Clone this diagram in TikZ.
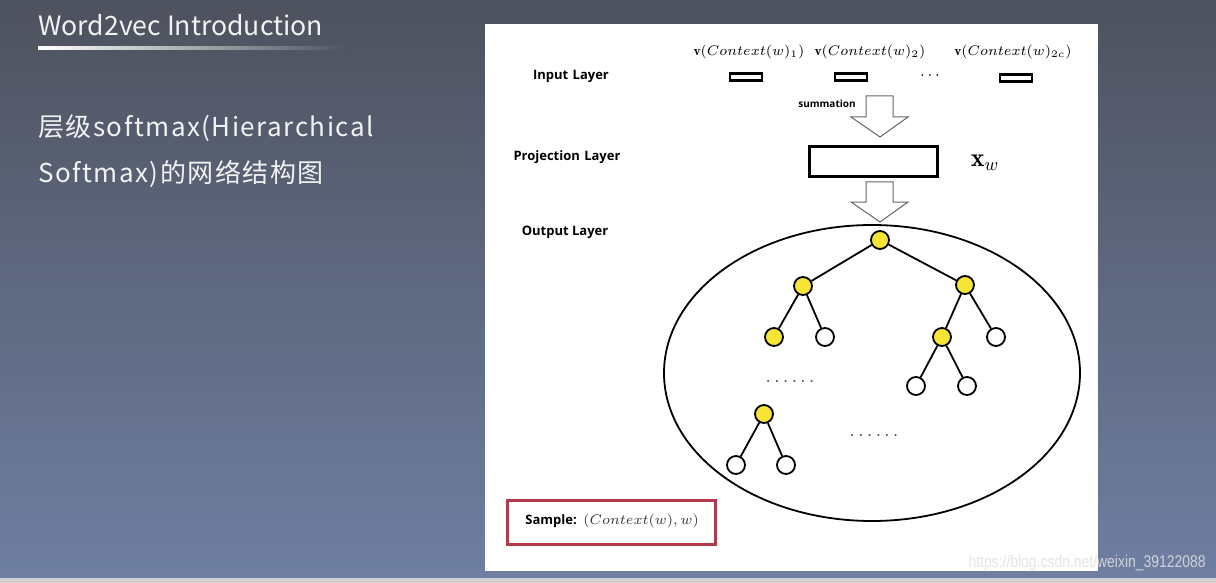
\documentclass[tikz,border=0pt]{standalone}
\usepackage{fontspec}
\newfontfamily\cjk{Noto Sans CJK SC}
\newfontfamily\cjkwide[LetterSpace=5.7]{Noto Sans CJK SC}
\newfontfamily\lsans{Open Sans}
\newfontfamily\wm{Liberation Sans}
\definecolor{bgtop}{HTML}{4E525E}
\definecolor{bgbot}{HTML}{6F7FA2}
\definecolor{treeyel}{HTML}{F7E535}
\definecolor{samplered}{HTML}{B23A4A}
\definecolor{txtw}{HTML}{F2F2F2}
\tikzset{
  yel/.style={circle,draw,line width=0.9pt,fill=treeyel,minimum size=9pt,inner sep=0pt},
  wht/.style={circle,draw,line width=0.9pt,fill=white,minimum size=9pt,inner sep=0pt},
  tedge/.style={line width=0.9pt},
  inbox/.style={draw,line width=1.3pt,minimum width=16pt,minimum height=3.5pt,inner sep=0pt},
  layerlbl/.style={font=\lsans\bfseries\fontsize{6.5}{7}\selectfont},
  mathlbl/.style={font=\fontsize{6.8}{7}\selectfont,inner sep=0pt},
  hollow/.style={draw=black!60,line width=0.5pt,fill=white},
  dotsl/.style={font=\bfseries\fontsize{6}{6}\selectfont,inner sep=0pt,text=black!75},
}
\begin{document}
\begin{tikzpicture}[x=0.5pt,y=-0.5pt]
\useasboundingbox (0,0) rectangle (1216,583);
% background
\shade[top color=bgtop,bottom color=bgbot] (0,0) rectangle (1216,578);
\fill[black!18] (0,578) rectangle (1216,583);
% title
\node[anchor=base west,inner sep=0pt,text=txtw,font=\cjk\fontsize{13.3}{14}\selectfont] (title) at (38,36) {Word2vec Introduction};
\shade[left color=white,right color=bgtop] (38,47) rectangle (350,49.5);
\node[anchor=base west,inner sep=0pt,text=txtw,font=\cjkwide\fontsize{13}{14}\selectfont] (l1) at (38,137) {层级softmax(Hierarchical};
\node[anchor=base west,inner sep=0pt,text=txtw,font=\cjkwide\fontsize{13}{14}\selectfont] (l2) at (38,183) {Softmax)的网络结构图};
% panel
\fill[white] (485,24) rectangle (1098,571);
% layer labels
\node[layerlbl] (inl) at (571,76) {Input\,\,Layer};
\node[layerlbl] (prl) at (567,157) {Projection\,\,Layer};
\node[layerlbl] (oul) at (565,232) {Output Layer};
% input
\node[mathlbl] (v1) at (749,52) {$\mathbf{v}(Context(w)_1)$};
\node[mathlbl] (v2) at (870,52) {$\mathbf{v}(Context(w)_2)$};
\node[mathlbl] (v3) at (1013,52) {$\mathbf{v}(Context(w)_{2c})$};
\node[inbox] (b1) at (746,77) {};
\node[inbox] (b2) at (851,77) {};
\node[inbox] (b3) at (1016,78) {};
\node[font=\fontsize{8}{8}\selectfont,inner sep=0pt] (idots) at (930,76) {$\cdots$};
\node[font=\lsans\bfseries\fontsize{5}{5}\selectfont,inner sep=0pt] (sum) at (827,104) {summation};
% arrow 1
\draw[hollow] (866,96) -- (893,96) -- (893,117) -- (908,117) -- (880,137) -- (851,117) -- (866,117) -- cycle;
% projection
\node[draw,line width=1.5pt,minimum width=64pt,minimum height=15pt,inner sep=0pt] (proj) at (873,162) {};
\node[font=\fontsize{13}{13}\selectfont,inner sep=0pt] (xw) at (985,163) {$\mathbf{x}_w$};
% arrow 2
\draw[hollow] (866,182) -- (893,182) -- (893,202) -- (908,202) -- (880,222) -- (851,202) -- (866,202) -- cycle;
% ellipse
\draw[line width=0.9pt] (872,373) ellipse [x radius=208,y radius=148];
% tree
\node[yel] (r) at (880,240) {};
\node[yel] (a) at (803,286) {};
\node[yel] (b) at (965,285) {};
\node[yel] (aa) at (774,337) {};
\node[wht] (ab) at (825,337) {};
\node[yel] (ba) at (942,337) {};
\node[wht] (bb) at (996,337) {};
\node[wht] (baa) at (916,386) {};
\node[wht] (bab) at (967,386) {};
\node[yel] (c) at (764,414) {};
\node[wht] (ca) at (736,465) {};
\node[wht] (cb) at (786,465) {};
\draw[tedge] (r) -- (a) (r) -- (b) (a) -- (aa) (a) -- (ab) (b) -- (ba) (b) -- (bb)
  (ba) -- (baa) (ba) -- (bab) (c) -- (ca) (c) -- (cb);
\node[dotsl] (d1) at (790,381) {.\,\,.\,\,.\,\,.\,\,.\,\,.};
\node[dotsl] (d2) at (874,435) {.\,\,.\,\,.\,\,.\,\,.\,\,.};
% sample
\node[draw=samplered,line width=1.5pt,minimum width=104pt,minimum height=22pt,inner sep=0pt] (samp) at (611.5,522) {};
\node[anchor=west,inner sep=0pt] (stxt) at (525,521) {{\lsans\bfseries\fontsize{6.5}{7}\selectfont Sample:}\ {\fontsize{7}{8}\selectfont\color{black!80}$(Context(w),w)$}};
% watermark
\node[anchor=east,inner sep=0pt,text=black!12,opacity=0.85,font=\wm\fontsize{8.5}{9}\selectfont,xscale=0.82] (wmk) at (1206,563) {https://blog.csdn.net/weixin\_39122088};
\end{tikzpicture}
\end{document}
